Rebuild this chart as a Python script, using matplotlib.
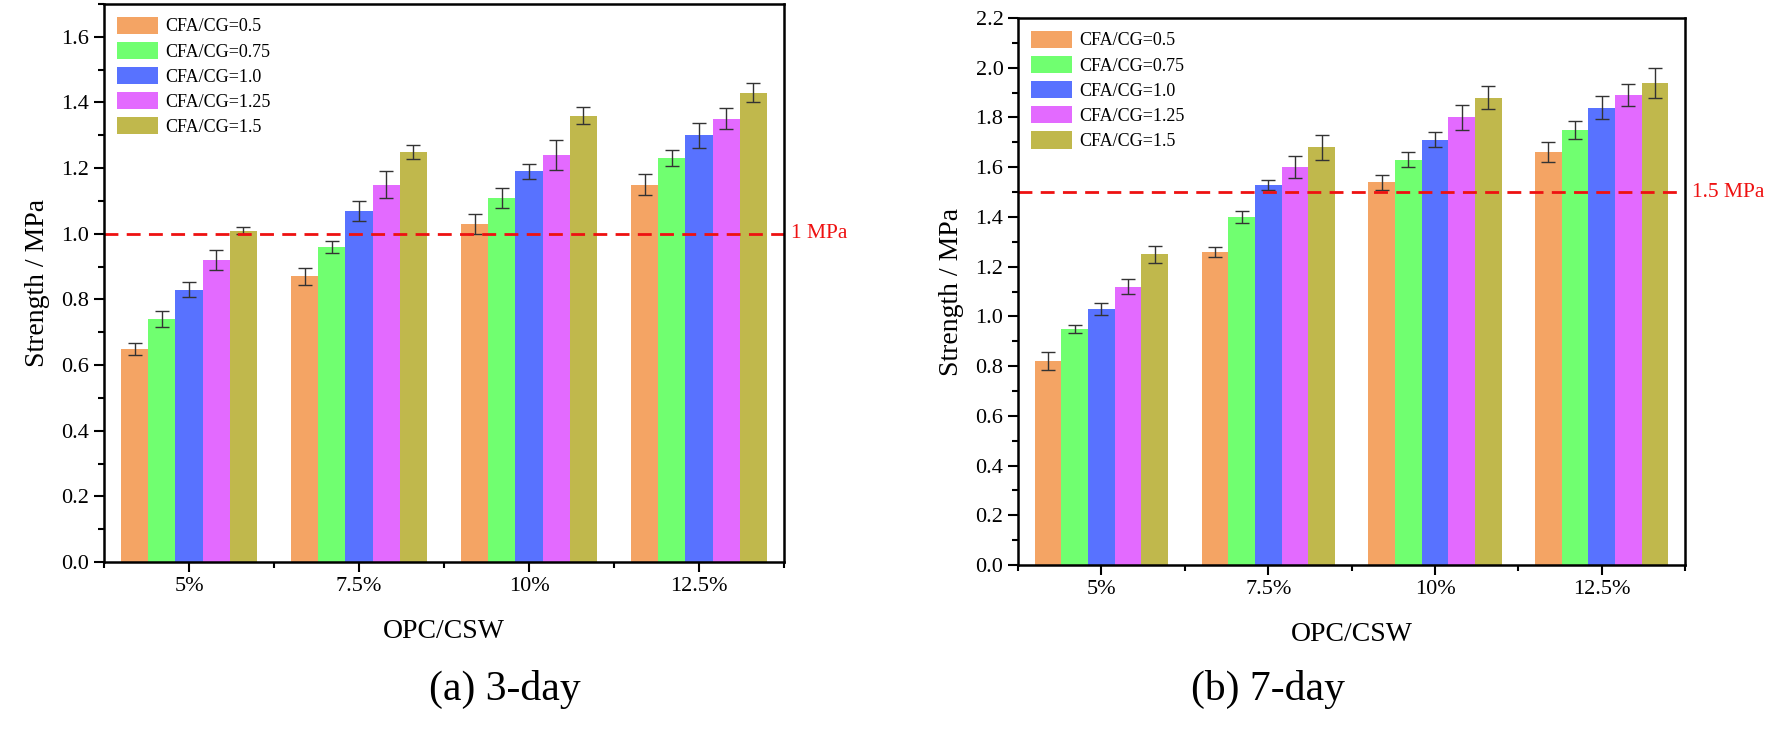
import numpy as np
import matplotlib
matplotlib.use("Agg")
import matplotlib.pyplot as plt
from matplotlib.ticker import MultipleLocator, FormatStrFormatter
from matplotlib.transforms import blended_transform_factory

plt.rcParams['font.family'] = ['Liberation Serif', 'DejaVu Serif']

groups = ['5%', '7.5%', '10%', '12.5%']
series = ['CFA/CG=0.5', 'CFA/CG=0.75', 'CFA/CG=1.0', 'CFA/CG=1.25', 'CFA/CG=1.5']
colors = ['#F4A464', '#70FF70', '#5872FF', '#E36AFF', '#C0B84C']

# 3-day strength, rows = series, cols = OPC/CSW groups
day3 = [
    [0.65, 0.87, 1.03, 1.15],
    [0.74, 0.96, 1.11, 1.23],
    [0.83, 1.07, 1.19, 1.30],
    [0.92, 1.15, 1.24, 1.35],
    [1.01, 1.25, 1.36, 1.43],
]
day3_err = [
    [0.018, 0.025, 0.030, 0.032],
    [0.025, 0.018, 0.030, 0.025],
    [0.022, 0.030, 0.022, 0.038],
    [0.030, 0.040, 0.045, 0.032],
    [0.012, 0.022, 0.025, 0.028],
]

# 7-day strength
day7 = [
    [0.82, 1.26, 1.54, 1.66],
    [0.95, 1.40, 1.63, 1.75],
    [1.03, 1.53, 1.71, 1.84],
    [1.12, 1.60, 1.80, 1.89],
    [1.25, 1.68, 1.88, 1.94],
]
day7_err = [
    [0.035, 0.020, 0.030, 0.040],
    [0.015, 0.025, 0.030, 0.035],
    [0.025, 0.020, 0.030, 0.045],
    [0.030, 0.045, 0.050, 0.045],
    [0.035, 0.050, 0.045, 0.060],
]


def draw_panel(ax, values, errors, ymax, ref, ref_text):
    x = np.arange(len(groups))
    w = 0.16
    for i, (vals, errs) in enumerate(zip(values, errors)):
        ax.bar(x + (i - 2) * w, vals, w, color=colors[i], label=series[i],
               edgecolor='none', yerr=errs, capsize=5,
               error_kw=dict(ecolor='#333333', elinewidth=1.0, capthick=1.0))
    ax.axhline(ref, color='#EE1111', lw=2, linestyle=(0, (5, 3)))
    trans = blended_transform_factory(ax.transAxes, ax.transData)
    ax.text(1.01, ref, ref_text, transform=trans, color='#EE1111',
            fontsize=15.5, va='center', ha='left')

    ax.set_xlim(-0.5, 3.5)
    ax.set_ylim(0, ymax)
    ax.set_xticks(x)
    ax.set_xticklabels(groups)
    ax.set_xticks(np.arange(-0.5, 4.0, 1.0), minor=True)
    ax.yaxis.set_major_locator(MultipleLocator(0.2))
    ax.yaxis.set_minor_locator(MultipleLocator(0.1))
    ax.yaxis.set_major_formatter(FormatStrFormatter('%.1f'))
    ax.tick_params(which='major', direction='out', length=7, width=1.5, labelsize=16)
    ax.tick_params(which='minor', direction='out', length=4, width=1.5)
    for sp in ax.spines.values():
        sp.set_linewidth(1.8)
    ax.set_xlabel('OPC/CSW', fontsize=20, labelpad=17)
    ax.set_ylabel('Strength / MPa', fontsize=20, labelpad=8)
    ax.legend(loc='upper left', frameon=False, fontsize=13, handlelength=2.3,
              handleheight=1.1, labelspacing=0.35, handletextpad=0.4,
              borderaxespad=0.3, borderpad=0.4)


fig = plt.figure(figsize=(17.69, 7.30), dpi=100)
ax1 = fig.add_axes([0.0588, 0.2301, 0.3844, 0.7644])
ax2 = fig.add_axes([0.5755, 0.2260, 0.3771, 0.7493])

draw_panel(ax1, day3, day3_err, 1.7, 1.0, '1 MPa')
draw_panel(ax2, day7, day7_err, 2.2, 1.5, '1.5 MPa')

fig.text(0.2855, 0.055, '(a) 3-day', fontsize=30, ha='center', va='center')
fig.text(0.717, 0.055, '(b) 7-day', fontsize=30, ha='center', va='center')

fig.savefig('out.png', dpi=100)
